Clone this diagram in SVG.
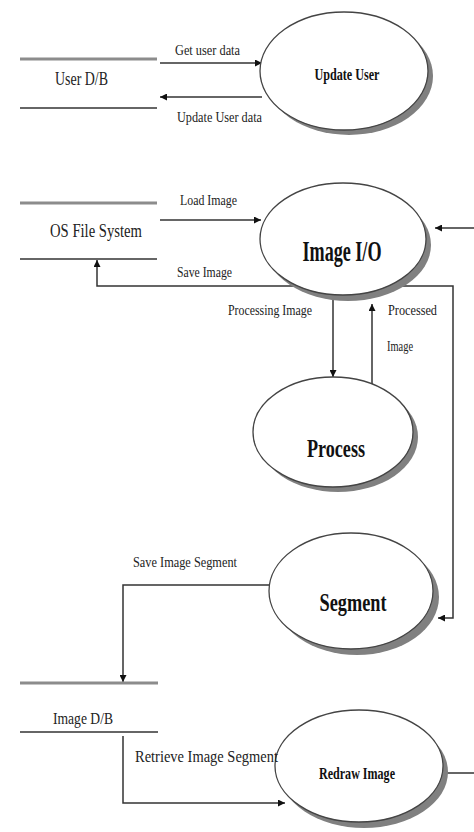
<svg xmlns="http://www.w3.org/2000/svg" width="474" height="832" viewBox="0 0 474 832">
  <defs>
    <marker id="arrow" viewBox="0 0 10 10" refX="10" refY="5" markerWidth="7" markerHeight="7" markerUnits="userSpaceOnUse" orient="auto">
      <path d="M0,0 L10,5 L0,10 Z" fill="#111"/>
    </marker>
    <style>
      .bg { fill: #ffffff; }
      .flow { fill: none; stroke: #333; stroke-width: 1.5; }
      .store-top { stroke: #8c8c8c; stroke-width: 3; }
      .store-bot { stroke: #333; stroke-width: 1.6; }
      .shadow { fill: #808080; }
      .bubble { fill: #ffffff; stroke: #444; stroke-width: 1.3; }
      .lbl { font-family: "Liberation Serif", "Times New Roman", serif; fill: #222; }
      .name { font-family: "Liberation Serif", "Times New Roman", serif; font-weight: bold; fill: #111; text-anchor: middle; }
    </style>
  </defs>

  <rect class="bg" x="0" y="0" width="474" height="832"/>

  <!-- data flows (lines sit under the process bubbles) -->
  <g id="connectors">
    <line class="flow" x1="160" y1="63" x2="262" y2="63" marker-end="url(#arrow)"/>
    <line class="flow" x1="262" y1="97" x2="160" y2="97" marker-end="url(#arrow)"/>
    <line class="flow" x1="160" y1="220" x2="261" y2="220" marker-end="url(#arrow)"/>
    <path class="flow" d="M310,286 H97 V260" marker-end="url(#arrow)"/>
    <path class="flow" d="M400,286 H453 V618 H438" marker-end="url(#arrow)"/>
    <line class="flow" x1="474" y1="228" x2="435" y2="228" marker-end="url(#arrow)"/>
    <line class="flow" x1="333" y1="300" x2="333" y2="377" marker-end="url(#arrow)"/>
    <line class="flow" x1="372" y1="384" x2="372" y2="304" marker-end="url(#arrow)"/>
    <path class="flow" d="M270,585 H123 V682" marker-end="url(#arrow)"/>
    <path class="flow" d="M123,736 V803 H285" marker-end="url(#arrow)"/>
    <line class="flow" x1="443" y1="773" x2="474" y2="773"/>
  </g>

  <!-- data stores -->
  <g id="store-user-db">
    <line class="store-top" x1="20" y1="59" x2="157" y2="59"/>
    <line class="store-bot" x1="20" y1="108" x2="157" y2="108"/>
    <text class="lbl" x="55" y="85" font-size="18" textLength="53" lengthAdjust="spacingAndGlyphs">User D/B</text>
  </g>
  <g id="store-os-fs">
    <line class="store-top" x1="20" y1="203" x2="157" y2="203"/>
    <line class="store-bot" x1="20" y1="259" x2="157" y2="259"/>
    <text class="lbl" x="50" y="237" font-size="18" textLength="92" lengthAdjust="spacingAndGlyphs">OS File System</text>
  </g>
  <g id="store-image-db">
    <line class="store-top" x1="20" y1="683" x2="158" y2="683"/>
    <line class="store-bot" x1="20" y1="732" x2="158" y2="732"/>
    <text class="lbl" x="53" y="724" font-size="17" textLength="60" lengthAdjust="spacingAndGlyphs">Image D/B</text>
  </g>

  <!-- processes -->
  <g id="proc-update-user">
    <ellipse class="shadow" cx="349" cy="76" rx="84" ry="59"/>
    <ellipse class="bubble" cx="344" cy="71" rx="84" ry="59"/>
    <text class="name" x="347" y="80" font-size="16" textLength="65" lengthAdjust="spacingAndGlyphs">Update User</text>
  </g>
  <g id="proc-image-io">
    <ellipse class="shadow" cx="348" cy="245" rx="83" ry="56"/>
    <ellipse class="bubble" cx="343" cy="239" rx="83" ry="56"/>
    <text class="name" x="342" y="261" font-size="29" textLength="79" lengthAdjust="spacingAndGlyphs">Image I/O</text>
  </g>
  <g id="proc-process">
    <ellipse class="shadow" cx="338" cy="437" rx="80" ry="55"/>
    <ellipse class="bubble" cx="333" cy="432" rx="80" ry="55"/>
    <text class="name" x="336" y="457" font-size="25" textLength="58" lengthAdjust="spacingAndGlyphs">Process</text>
  </g>
  <g id="proc-segment">
    <ellipse class="shadow" cx="357" cy="597" rx="82" ry="58"/>
    <ellipse class="bubble" cx="351" cy="591" rx="82" ry="58"/>
    <text class="name" x="353" y="611" font-size="25" textLength="67" lengthAdjust="spacingAndGlyphs">Segment</text>
  </g>
  <g id="proc-redraw-image">
    <ellipse class="shadow" cx="364" cy="772" rx="84" ry="56"/>
    <ellipse class="bubble" cx="359" cy="766" rx="84" ry="56"/>
    <text class="name" x="357" y="779" font-size="16" textLength="76" lengthAdjust="spacingAndGlyphs">Redraw Image</text>
  </g>

  <!-- flow labels, drawn last so they stay readable over the bubbles -->
  <g id="flow-labels">
    <text class="lbl" x="175" y="55" font-size="15" textLength="65" lengthAdjust="spacingAndGlyphs">Get user data</text>
    <text class="lbl" x="177" y="122" font-size="15" textLength="85" lengthAdjust="spacingAndGlyphs">Update User data</text>
    <text class="lbl" x="180" y="205" font-size="15" textLength="57" lengthAdjust="spacingAndGlyphs">Load Image</text>
    <text class="lbl" x="177" y="277" font-size="15" textLength="55" lengthAdjust="spacingAndGlyphs">Save Image</text>
    <text class="lbl" x="228" y="315" font-size="14" textLength="84" lengthAdjust="spacingAndGlyphs">Processing Image</text>
    <text class="lbl" x="388" y="315" font-size="14" textLength="49" lengthAdjust="spacingAndGlyphs">Processed</text>
    <text class="lbl" x="387" y="351" font-size="14" textLength="26" lengthAdjust="spacingAndGlyphs">Image</text>
    <text class="lbl" x="133" y="567" font-size="15" textLength="104" lengthAdjust="spacingAndGlyphs">Save Image Segment</text>
    <text class="lbl" x="135" y="762" font-size="17" textLength="143" lengthAdjust="spacingAndGlyphs">Retrieve Image Segment</text>
  </g>
</svg>
